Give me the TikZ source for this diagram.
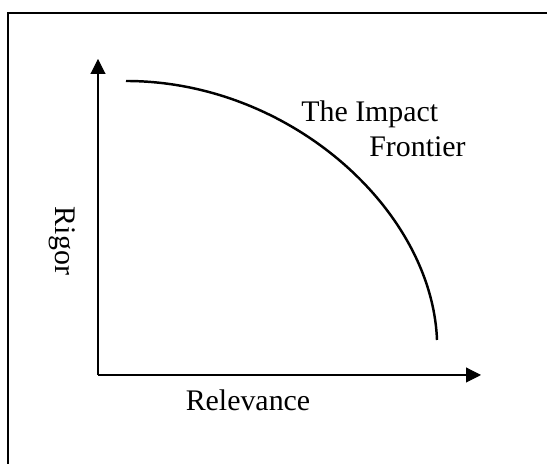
\documentclass[tikz,border=0pt]{standalone}
\usepackage{fontspec}
\setmainfont{Liberation Serif}
\usepackage{tikz}
\usetikzlibrary{arrows.meta, positioning}

\tikzset{
	axis/.style={line width=0.6pt, -{Triangle[width=0.3cm,length=0.3cm]}},
	frontier/.style={line width=1.4pt},
	lbl/.style={font=\fontsize{17}{20}\selectfont, inner sep=0pt}
}

\begin{document}
\begin{tikzpicture}
	\useasboundingbox (-1.96,-1.78) rectangle (8.98,7.5);
	% frame, only top and left edge inside the page
	\draw[line width=0.8pt] (-1.8,-1.78) |- (8.98,7.24);

	\coordinate (origin) at (0,0);
	\coordinate (ytop) at (0,6.32);
	\coordinate (xend) at (7.66,0);
	\coordinate (fstart) at (0.56,5.88);
	\coordinate (fend) at (6.78,0.7);

	\draw[axis] (origin) -- (ytop);
	\draw[axis] (origin) -- (xend);

	% the frontier curve
	\draw[frontier] (fstart) .. controls (3.84,5.88) and (6.68,3.3) .. (fend);

	\node[lbl, anchor=base west] at (4.06,5.06) (the) {The Impact};
	\node[lbl, anchor=base west] at (5.42,4.36) (front) {Frontier};
	\node[lbl, anchor=base, rotate=-90] at (-0.84,2.68) (rigor) {Rigor};
	\node[lbl, anchor=base] at (3.0,-0.72) (rel) {Relevance};
\end{tikzpicture}
\end{document}
